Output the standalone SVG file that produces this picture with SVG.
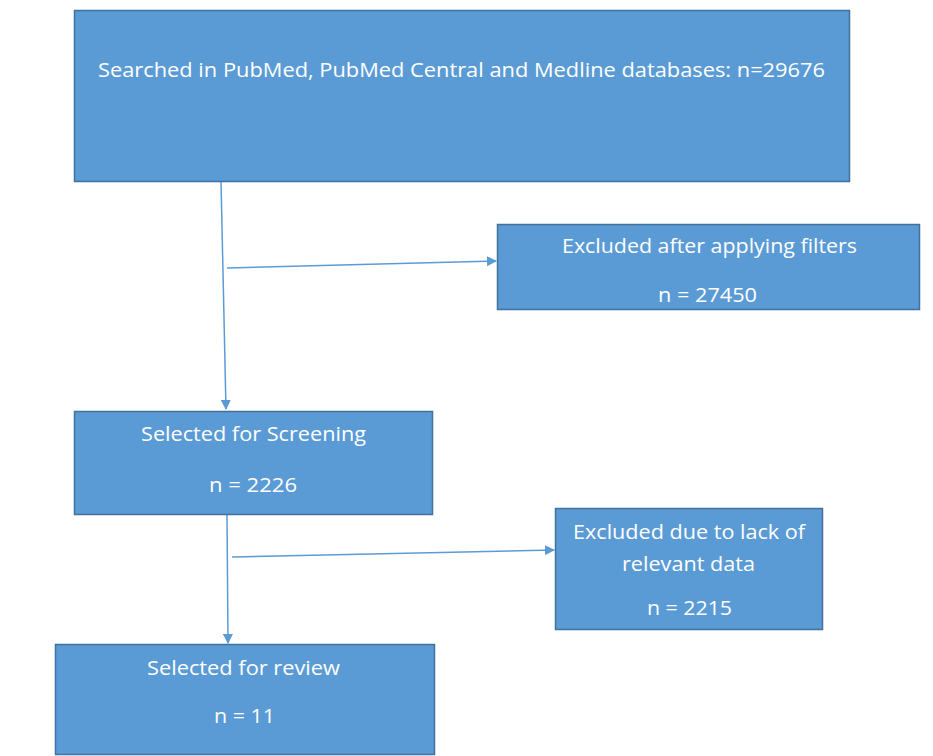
<svg xmlns="http://www.w3.org/2000/svg" width="933" height="756" viewBox="0 0 933 756">
<defs>
<style>
.box{fill:#5B9BD5;stroke:#41719C;stroke-width:1.5}
.t{fill:#FFFFFF;font-family:"Open Sans","Liberation Sans",sans-serif;font-size:20px;text-anchor:middle}
.c{stroke:#5B9BD5;stroke-width:1.5;fill:none;marker-end:url(#ah)}
</style>
<marker id="ah" markerWidth="10" markerHeight="10" refX="9" refY="5" orient="auto" markerUnits="userSpaceOnUse">
<path d="M0,0 L10,5 L0,10 Z" fill="#5B9BD5"/>
</marker>
</defs>
<rect width="933" height="756" fill="#FFFFFF"/>
<g id="connectors">
<path class="c" d="M221,181 L226,409"/>
<path class="c" d="M227,268 L496,261"/>
<path class="c" d="M227,515 L228,643"/>
<path class="c" d="M232,557 L554,550"/>
</g>
<g id="n1">
<rect class="box" x="74.5" y="10.5" width="775" height="171"/>
<text class="t" x="461.5" y="77" textLength="727" lengthAdjust="spacingAndGlyphs">Searched in PubMed, PubMed Central and Medline databases: n=29676</text>
</g>
<g id="n2">
<rect class="box" x="497.5" y="224.5" width="422" height="85"/>
<text class="t" x="709.5" y="253" textLength="295" lengthAdjust="spacingAndGlyphs">Excluded after applying filters</text>
<text class="t" x="707.5" y="302" textLength="99" lengthAdjust="spacingAndGlyphs">n = 27450</text>
</g>
<g id="n3">
<rect class="box" x="74.5" y="411.5" width="358" height="103"/>
<text class="t" x="253.5" y="441" textLength="225" lengthAdjust="spacingAndGlyphs">Selected for Screening</text>
<text class="t" x="253" y="492" textLength="88" lengthAdjust="spacingAndGlyphs">n = 2226</text>
</g>
<g id="n4">
<rect class="box" x="555.5" y="508.5" width="267" height="121"/>
<text class="t" x="689" y="539" textLength="232" lengthAdjust="spacingAndGlyphs">Excluded due to lack of</text>
<text class="t" x="688.5" y="571" textLength="133" lengthAdjust="spacingAndGlyphs">relevant data</text>
<text class="t" x="689.5" y="615" textLength="85" lengthAdjust="spacingAndGlyphs">n = 2215</text>
</g>
<g id="n5">
<rect class="box" x="55.5" y="644.5" width="379" height="110"/>
<text class="t" x="243.5" y="675" textLength="193" lengthAdjust="spacingAndGlyphs">Selected for review</text>
<text class="t" x="244.5" y="723" textLength="61" lengthAdjust="spacingAndGlyphs">n = 11</text>
</g>
</svg>
